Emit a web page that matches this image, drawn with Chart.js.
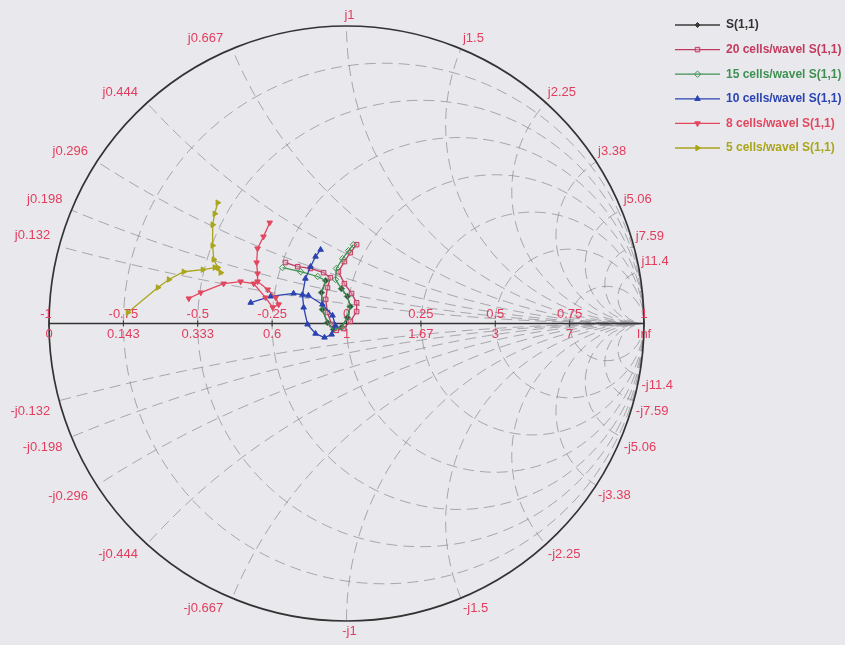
<!DOCTYPE html>
<html>
<head>
<meta charset="utf-8">
<title>S(1,1) Smith chart</title>
<script src="https://cdn.jsdelivr.net/npm/chart.js@4.4.1/dist/chart.umd.min.js"></script>
<style>
  html, body { margin: 0; padding: 0; background: #e9e9ed; }
  #wrap { width: 845px; height: 645px; }
</style>
</head>
<body>
<div id="wrap"><canvas id="smith" width="845" height="645"></canvas></div>
<script>
// reflection coefficient along the real axis and the matching normalized resistance
const gammaTicks = [-1, -0.75, -0.5, -0.25, 0, 0.25, 0.5, 0.75, 1];
const gammaLabels = ['-1', '-0.75', '-0.5', '-0.25', '0', '0.25', '0.5', '0.75', '1'];
const resistanceLabels = ['0', '0.143', '0.333', '0.6', '1', '1.67', '3', '7', 'Inf'];

// grid: constant resistance circles and constant reactance arcs
const resistanceCircles = [0.143, 0.333, 0.6, 1, 1.67, 3, 7];
const reactanceArcs = [0.132, 0.198, 0.296, 0.444, 0.667, 1, 1.5, 2.25, 3.38, 5.06, 7.59, 11.4];

// S(1,1) traces, [re, im]
const s11Ref = [
  [-0.070, 0.144], [-0.084, 0.104], [-0.081, 0.047], [-0.064, 0.003], [-0.044, -0.020],
  [-0.017, -0.013], [0.003, 0.020], [0.013, 0.057], [0.003, 0.091], [-0.017, 0.117]
];
const s11Cells20 = [
  [-0.205, 0.205], [-0.164, 0.191], [-0.121, 0.185], [-0.077, 0.171], [-0.054, 0.154],
  [-0.064, 0.121], [-0.070, 0.081], [-0.064, 0.037], [-0.050, -0.003], [-0.034, -0.023],
  [-0.010, -0.017], [0.013, 0.007], [0.034, 0.040], [0.034, 0.070], [0.017, 0.101],
  [-0.007, 0.134], [-0.027, 0.174], [-0.007, 0.208], [0.013, 0.238], [0.034, 0.265]
];
const s11Cells15 = [
  [-0.215, 0.188], [-0.154, 0.174], [-0.097, 0.158], [-0.070, 0.144], [-0.084, 0.104],
  [-0.081, 0.047], [-0.064, 0.003], [-0.044, -0.020], [-0.017, -0.013], [0.003, 0.020],
  [0.013, 0.057], [0.003, 0.091], [-0.017, 0.117], [-0.037, 0.148], [-0.034, 0.185],
  [-0.013, 0.218], [0.007, 0.245], [0.023, 0.265]
];
const s11Cells10 = [
  [-0.322, 0.070], [-0.255, 0.091], [-0.178, 0.101], [-0.128, 0.094], [-0.081, 0.064],
  [-0.047, 0.027], [-0.037, -0.007], [-0.050, -0.037], [-0.074, -0.047], [-0.104, -0.034],
  [-0.131, -0.003], [-0.144, 0.054], [-0.148, 0.097], [-0.138, 0.151], [-0.121, 0.191],
  [-0.104, 0.225], [-0.087, 0.248]
];
const s11Cells8 = [
  [-0.258, 0.339], [-0.279, 0.292], [-0.299, 0.252], [-0.302, 0.205], [-0.299, 0.168],
  [-0.299, 0.141], [-0.265, 0.114], [-0.238, 0.087], [-0.228, 0.064], [-0.248, 0.054],
  [-0.272, 0.087], [-0.312, 0.134], [-0.356, 0.141], [-0.413, 0.134], [-0.490, 0.104],
  [-0.530, 0.084]
];
const s11Cells5 = [
  [-0.735, 0.037], [-0.634, 0.121], [-0.597, 0.148], [-0.547, 0.174], [-0.483, 0.181],
  [-0.443, 0.188], [-0.423, 0.171], [-0.433, 0.188], [-0.446, 0.215], [-0.450, 0.262],
  [-0.450, 0.332], [-0.443, 0.369], [-0.433, 0.406]
];

const seriesNames = ['S(1,1)', '20 cells/wavel S(1,1)', '15 cells/wavel S(1,1)',
  '10 cells/wavel S(1,1)', '8 cells/wavel S(1,1)', '5 cells/wavel S(1,1)'];
const seriesData = [s11Ref, s11Cells20, s11Cells15, s11Cells10, s11Cells8, s11Cells5];
const seriesColors = ['#3a3a3a', '#c23a5e', '#3f9152', '#2a43b0', '#e2475f', '#a9a51c'];
const seriesFills = ['#3a3a3a', 'rgba(225,160,185,0.55)', 'rgba(0,0,0,0)', '#2a43b0', '#e2475f', '#a9a51c'];
const seriesMarkers = ['rectRot', 'rect', 'rectRot', 'triangle', 'triangle', 'triangle'];
const seriesRotation = [0, 0, 0, 0, 180, 90];

const labelRed = '#e23c5e';

const datasets = seriesData.map((pts, i) => ({
  label: seriesNames[i],
  data: pts.map(p => ({ x: p[0], y: p[1] })),
  showLine: true,
  borderColor: seriesColors[i],
  borderWidth: 1.3,
  pointStyle: seriesMarkers[i],
  rotation: seriesRotation[i],
  pointRadius: i === 0 ? 2.5 : 3.2,
  pointBorderWidth: 1,
  pointBorderColor: seriesColors[i],
  pointBackgroundColor: seriesFills[i],
  order: 6 - i
}));

const smithGrid = {
  id: 'smithGrid',
  beforeDatasetsDraw(chart) {
    const { ctx, scales: { x, y } } = chart;
    const cx = x.getPixelForValue(0), cy = y.getPixelForValue(0);
    const rx = x.getPixelForValue(1) - cx, ry = cy - y.getPixelForValue(1);
    const px = g => x.getPixelForValue(g);
    const py = g => y.getPixelForValue(g);

    ctx.save();
    ctx.beginPath();
    ctx.ellipse(cx, cy, rx, ry, 0, 0, Math.PI * 2);
    ctx.clip();
    ctx.strokeStyle = 'rgba(125,125,130,0.62)';
    ctx.lineWidth = 1;
    ctx.setLineDash([11, 6]);
    resistanceCircles.forEach(r => {
      const c = r / (1 + r), rad = 1 / (1 + r);
      ctx.beginPath();
      ctx.ellipse(px(c), cy, rad * rx, rad * ry, 0, 0, Math.PI * 2);
      ctx.stroke();
    });
    reactanceArcs.forEach(v => {
      [1, -1].forEach(s => {
        const rad = 1 / v;
        ctx.beginPath();
        ctx.ellipse(px(1), py(s * rad), rad * rx, rad * ry, 0, 0, Math.PI * 2);
        ctx.stroke();
      });
    });
    ctx.restore();

    // outer circle and real axis
    ctx.save();
    ctx.strokeStyle = '#333';
    ctx.lineWidth = 1.7;
    ctx.beginPath();
    ctx.ellipse(cx, cy, rx, ry, 0, 0, Math.PI * 2);
    ctx.stroke();
    ctx.lineWidth = 1.4;
    ctx.beginPath();
    ctx.moveTo(px(-1), cy);
    ctx.lineTo(px(1), cy);
    ctx.stroke();
    ctx.lineWidth = 1;
    gammaTicks.forEach(g => {
      ctx.beginPath();
      ctx.moveTo(px(g), cy - 3);
      ctx.lineTo(px(g), cy + 3);
      ctx.stroke();
    });

    ctx.fillStyle = labelRed;
    ctx.font = '13px "Liberation Sans", Arial, sans-serif';
    ctx.textAlign = 'center';
    gammaTicks.forEach((g, i) => {
      ctx.textBaseline = 'bottom';
      ctx.fillText(gammaLabels[i], px(g) - (i === 0 ? 3 : 0), cy - 3);
      ctx.textBaseline = 'top';
      ctx.fillText(resistanceLabels[i], px(g), cy + 4);
    });

    reactanceArcs.forEach(v => {
      const th = Math.PI - 2 * Math.atan(v);
      const ex = cx + rx * Math.cos(th);
      [1, -1].forEach(s => {
        const ey = cy - s * ry * Math.sin(th);
        const txt = (s > 0 ? 'j' : '-j') + v;
        let tx;
        if (Math.abs(Math.cos(th)) < 0.01) { ctx.textAlign = 'center'; tx = ex + 3; }
        else if (Math.cos(th) > 0) { ctx.textAlign = 'left'; tx = ex + 2; }
        else { ctx.textAlign = 'right'; tx = ex - 9; }
        ctx.textBaseline = s > 0 ? 'bottom' : 'top';
        ctx.fillText(txt, tx, s > 0 ? ey - 4 : ey + 4);
      });
    });
    ctx.restore();
  },
  afterDraw(chart) {
    const { ctx } = chart;
    const x0 = 675, x1 = 720;
    ctx.save();
    ctx.font = 'bold 12px "Liberation Sans", Arial, sans-serif';
    ctx.textBaseline = 'middle';
    ctx.textAlign = 'left';
    chart.data.datasets.forEach((ds, i) => {
      const ly = 25 + i * 24.6;
      ctx.strokeStyle = ds.borderColor;
      ctx.lineWidth = 1.3;
      ctx.beginPath();
      ctx.moveTo(x0, ly);
      ctx.lineTo(x1, ly);
      ctx.stroke();
      ctx.fillStyle = ds.pointBackgroundColor;
      ctx.lineWidth = 1;
      Chart.helpers.drawPoint(ctx, {
        pointStyle: ds.pointStyle, rotation: ds.rotation,
        radius: ds.pointRadius, borderWidth: 1
      }, (x0 + x1) / 2, ly);
      ctx.fillStyle = i === 0 ? '#333' : ds.borderColor;
      ctx.fillText(ds.label, 726, ly);
    });
    ctx.restore();
  }
};

new Chart(document.getElementById('smith').getContext('2d'), {
  type: 'scatter',
  data: { datasets },
  options: {
    responsive: false,
    animation: false,
    layout: { padding: { left: 49, right: 201, top: 26, bottom: 24 } },
    scales: {
      x: { type: 'linear', min: -1, max: 1, display: false },
      y: { type: 'linear', min: -1, max: 1, display: false }
    },
    plugins: { legend: { display: false }, tooltip: { enabled: false } },
    elements: { line: { tension: 0 } }
  },
  plugins: [smithGrid]
});
</script>
</body>
</html>
